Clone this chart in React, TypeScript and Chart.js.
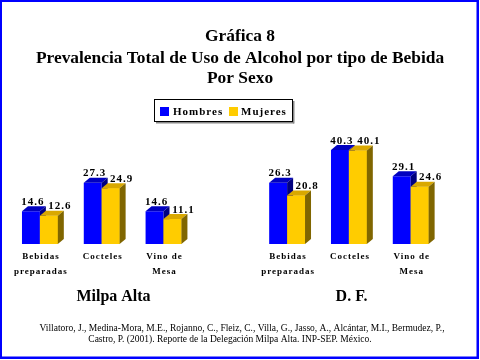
import React, { useEffect, useRef } from "react";
import { Chart, registerables } from "chart.js";

Chart.register(...registerables);

const categories: string[][] = [["Bebidas", "preparadas"], ["Cocteles"], ["Vino de", "Mesa"]];
const hombresMilpa = [14.6, 27.3, 14.6];
const mujeresMilpa = [12.6, 24.9, 11.1];
const hombresDF = [26.3, 40.3, 29.1];
const mujeresDF = [20.8, 40.1, 24.6];
const seriesNames = ["Hombres", "Mujeres"];
const groupNames = ["Milpa Alta", "D. F."];
const titleLines = ["Gráfica 8", "Prevalencia Total de Uso de Alcohol por tipo de Bebida", "Por Sexo"];
const footerLines = [
  "Villatoro, J., Medina-Mora, M.E., Rojanno, C., Fleiz, C., Villa, G., Jasso, A., Alcántar, M.I., Bermudez, P.,",
  "Castro, P. (2001). Reporte de la Delegación Milpa Alta. INP-SEP. México.",
];

const BLUE = "#0000FF";
const BLUE_TOP = "#0000C0";
const BLUE_SIDE = "#000080";
const YEL = "#FFCC00";
const YEL_TOP = "#D9A800";
const YEL_SIDE = "#806600";
const SERIF = '"Liberation Serif", "Times New Roman", serif';

const nulls = [null, null, null, null];
const labels = [...categories, [""], ...categories];

const decorPlugin = {
  id: "decor",
  afterDatasetsDraw(chart: any) {
    const ctx: CanvasRenderingContext2D = chart.ctx;
    const dx = 6, dy = 5;
    const faces = (el: any, top: string, side: string) => {
      const { x, y, base, width } = el.getProps(["x", "y", "base", "width"], true);
      const l = x - width / 2, r = x + width / 2;
      ctx.fillStyle = top;
      ctx.beginPath();
      ctx.moveTo(l, y); ctx.lineTo(l + dx, y - dy); ctx.lineTo(r + dx, y - dy); ctx.lineTo(r, y);
      ctx.closePath(); ctx.fill();
      ctx.fillStyle = side;
      ctx.beginPath();
      ctx.moveTo(r, y); ctx.lineTo(r + dx, y - dy); ctx.lineTo(r + dx, base - dy); ctx.lineTo(r, base);
      ctx.closePath(); ctx.fill();
    };
    ctx.save();
    const pairs = [[0, 1], [2, 3]];
    const valueLabels: { x: number; y: number; t: string }[] = [];
    for (const [a, b] of pairs) {
      const ma = chart.getDatasetMeta(a), mb = chart.getDatasetMeta(b);
      const da = chart.data.datasets[a].data, db = chart.data.datasets[b].data;
      for (let i = 0; i < da.length; i++) {
        if (da[i] == null) continue;
        const ea = ma.data[i], eb = mb.data[i];
        faces(ea, BLUE_TOP, BLUE_SIDE);
        eb.draw(ctx);
        faces(eb, YEL_TOP, YEL_SIDE);
        const pa = ea.getProps(["x", "y"], true), pb = eb.getProps(["x", "y"], true);
        valueLabels.push({ x: pa.x + 2, y: pa.y - 6.5, t: da[i].toFixed(1) });
        valueLabels.push({ x: pb.x + 11, y: pb.y - 6.5, t: db[i].toFixed(1) });
      }
    }
    ctx.fillStyle = "#000";
    ctx.textAlign = "center";
    ctx.textBaseline = "alphabetic";
    ctx.font = `bold 11px ${SERIF}`;
    (ctx as any).letterSpacing = "1px";
    for (const v of valueLabels) ctx.fillText(v.t, v.x, v.y);

    // category labels
    const xs = chart.scales.x;
    ctx.font = `bold 9px ${SERIF}`;
    (ctx as any).letterSpacing = "1px";
    ctx.textBaseline = "middle";
    labels.forEach((lab: string[], i: number) => {
      const px = xs.getPixelForValue(i);
      lab.forEach((line, j) => ctx.fillText(line, px + 1, 257 + j * 14.5));
    });
    ctx.restore();
  },
  afterDraw(chart: any) {
    const ctx: CanvasRenderingContext2D = chart.ctx;
    ctx.save();
    ctx.fillStyle = "#000";
    ctx.textAlign = "center";
    ctx.textBaseline = "middle";
    ctx.font = `bold 17.4px ${SERIF}`;
    const ty = [37, 58.5, 79];
    titleLines.forEach((t, i) => ctx.fillText(t, 240, ty[i]));

    // legend
    ctx.fillStyle = "#888";
    ctx.fillRect(156, 122, 138, 1.5);
    ctx.fillRect(293, 101, 1.5, 22.5);
    ctx.strokeStyle = "#000";
    ctx.lineWidth = 1;
    ctx.fillStyle = "#fff";
    ctx.fillRect(154.5, 99.5, 138, 22);
    ctx.strokeRect(154.5, 99.5, 138, 22);
    ctx.fillStyle = BLUE;
    ctx.fillRect(160, 107, 9, 9);
    ctx.fillStyle = YEL;
    ctx.fillRect(229, 107, 9, 9);
    ctx.fillStyle = "#000";
    ctx.textAlign = "left";
    ctx.font = `bold 11px ${SERIF}`;
    (ctx as any).letterSpacing = "1px";
    ctx.fillText(seriesNames[0], 173, 112);
    ctx.fillText(seriesNames[1], 241, 112);
    (ctx as any).letterSpacing = "0px";

    // group labels
    ctx.textAlign = "center";
    ctx.font = `bold 16px ${SERIF}`;
    ctx.fillText(groupNames[0], 113.5, 297);
    ctx.fillText(groupNames[1], 351.5, 297);

    // footer
    ctx.font = `9.5px ${SERIF}`;
    ctx.fillText(footerLines[0], 242, 328);
    ctx.fillText(footerLines[1], 230, 339.5);

    // frame
    ctx.fillStyle = "#0000FF";
    ctx.fillRect(0, 0, 479, 2);
    ctx.fillRect(0, 0, 2, 359);
    ctx.fillRect(476.5, 0, 2.5, 359);
    ctx.fillRect(0, 356.5, 479, 2.5);
    ctx.restore();
  },
};

export default function App() {
  const ref = useRef<HTMLCanvasElement>(null);
  useEffect(() => {
    if (!ref.current) return;
    const chart = new Chart(ref.current, {
      type: "bar",
      data: {
        labels,
        datasets: [
          { label: seriesNames[0], data: [...hombresMilpa, ...nulls], backgroundColor: BLUE, yAxisID: "y1" },
          { label: seriesNames[1], data: [...mujeresMilpa, ...nulls], backgroundColor: YEL, yAxisID: "y1" },
          { label: seriesNames[0], data: [...nulls, ...hombresDF], backgroundColor: BLUE, yAxisID: "y2" },
          { label: seriesNames[1], data: [...nulls, ...mujeresDF], backgroundColor: YEL, yAxisID: "y2" },
        ] as any,
      },
      options: {
        responsive: false,
        animation: false,
        devicePixelRatio: 1,
        layout: { padding: { left: 9, right: 38.4, top: 138, bottom: 116 } },
        datasets: { bar: { categoryPercentage: 0.58, barPercentage: 1, skipNull: true, borderWidth: 0 } } as any,
        scales: {
          x: { display: false },
          y1: { display: false, min: 0, max: 47.3 },
          y2: { display: false, min: 0, max: 45.5 },
        },
        plugins: { legend: { display: false }, tooltip: { enabled: false }, title: { display: false } },
      },
      plugins: [decorPlugin],
    });
    return () => chart.destroy();
  }, []);
  return (
    <div style={{ position: "fixed", left: 0, top: 0, width: 480, height: 360, background: "#fff" }}>
      <canvas ref={ref} width={480} height={360} style={{ display: "block" }} />
    </div>
  );
}
